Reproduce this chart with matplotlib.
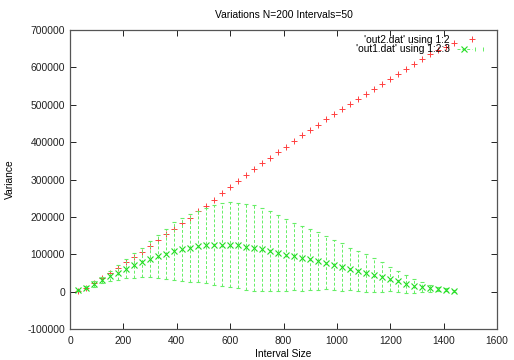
import matplotlib
matplotlib.use('Agg')
import matplotlib.pyplot as plt
from matplotlib.lines import Line2D
from matplotlib.legend_handler import HandlerLine2D, HandlerTuple
import numpy as np

# interval sizes (same for both files)
interval = np.arange(30, 1441, 30)

# out2.dat column 2
var2 = [3000, 11000, 23000, 37000, 50000, 64000, 78000, 93000, 107000, 122000,
        137000, 155000, 168000, 183000, 198000, 215000, 230000, 246000, 263000, 279000,
        295000, 311000, 327000, 343000, 358000, 374000, 388000, 404000, 418000, 432000,
        446000, 461000, 475000, 489000, 502000, 516000, 528000, 543000, 555000, 570000,
        583000, 595000, 609000, 622000, 636000, 646000, 655000, 664000]

# out1.dat columns 2 and 3 (mean, error)
var1 = [4000, 11000, 20500, 32000, 41000, 51000, 61000, 70000, 78000, 87000,
        94000, 101000, 109000, 113000, 117000, 121000, 124000, 125000, 126000, 126000,
        124000, 120000, 117000, 114000, 109000, 104000, 98000, 94000, 89000, 86000,
        82000, 77000, 71000, 66000, 61000, 56000, 50000, 45000, 39000, 34000,
        28000, 21000, 16000, 12500, 9000, 7000, 4500, 2000]
err1 = [1500, 4000, 7000, 8000, 13000, 19000, 25000, 33000, 40000, 48000,
        58000, 67000, 77000, 84000, 90000, 95000, 100000, 106000, 111000, 113000,
        114000, 115000, 115000, 111000, 106000, 101000, 97000, 90000, 87000, 82000,
        77000, 71000, 67000, 63000, 57000, 54000, 52000, 45000, 39000, 32000,
        28000, 24000, 19000, 12500, 10000, 6000, 4000, 2000]

red = '#ff4040'
green = '#22dd22'
lightgreen = '#66ee66'

plt.rcParams['font.family'] = ['Liberation Sans', 'DejaVu Sans']
plt.rcParams['font.size'] = 7.4
plt.rcParams['axes.unicode_minus'] = False

fig = plt.figure(figsize=(5.14, 3.6), dpi=100)
ax = fig.add_axes([70 / 514, 1 - 329 / 360, 427 / 514, 299 / 360])

ax.plot(interval, var2, linestyle='none', marker='+', markersize=5,
        markeredgewidth=0.7, color=red)
eb = ax.errorbar(interval, var1, yerr=err1, fmt='x', markersize=4,
                 markeredgewidth=0.8, color=green, ecolor=lightgreen,
                 elinewidth=0.7, capsize=1.5, capthick=0.7)
eb[2][0].set_linestyle((0, (3, 2)))

ax.set_xlim(0, 1600)
ax.set_ylim(-100000, 700000)
ax.set_xticks(np.arange(0, 1601, 200))
ax.set_yticks(np.arange(-100000, 700001, 100000))
ax.tick_params(direction='in', length=4, width=0.7, top=True, right=True,
               labelsize=7.4, colors='#222222')
ax.tick_params(axis='x', pad=5)
for s in ax.spines.values():
    s.set_color('#555555')
    s.set_linewidth(0.9)

ax.set_title('Variations N=200 Intervals=50', fontsize=7.4, pad=9)
ax.set_xlabel('Interval Size', fontsize=7.4, labelpad=2)
ax.set_ylabel('Variance', fontsize=7.4, labelpad=9)

# legend keys in gnuplot style
key_red = Line2D([], [], linestyle='none', marker='+', markersize=5,
                 markeredgewidth=0.7, color=red)
key_line = Line2D([], [], linestyle=(0, (3, 2)), linewidth=0.7, color=lightgreen,
                  marker='x', markersize=4, markeredgewidth=0.8,
                  markeredgecolor=green)
key_caps = Line2D([], [], linestyle='none', marker='|', markersize=3,
                  markeredgewidth=0.7, color=lightgreen)

leg = ax.legend([key_red, (key_line, key_caps)],
                ["'out2.dat' using 1:2", "'out1.dat' using 1:2:3"],
                handler_map={key_caps: HandlerLine2D(numpoints=2),
                             key_line: HandlerLine2D(numpoints=1),
                             key_red: HandlerLine2D(numpoints=1),
                             tuple: HandlerTuple(ndivide=None)},
                loc='upper right', bbox_to_anchor=(486 / 514, 1 - 35 / 360),
                bbox_transform=fig.transFigure,
                frameon=False, markerfirst=False,
                fontsize=7.4, handlelength=2.8, handletextpad=0.75,
                labelspacing=-0.05, borderaxespad=0, borderpad=0)
for t in leg.get_texts():
    t.set_ha('right')

fig.savefig('out.png', dpi=100)
